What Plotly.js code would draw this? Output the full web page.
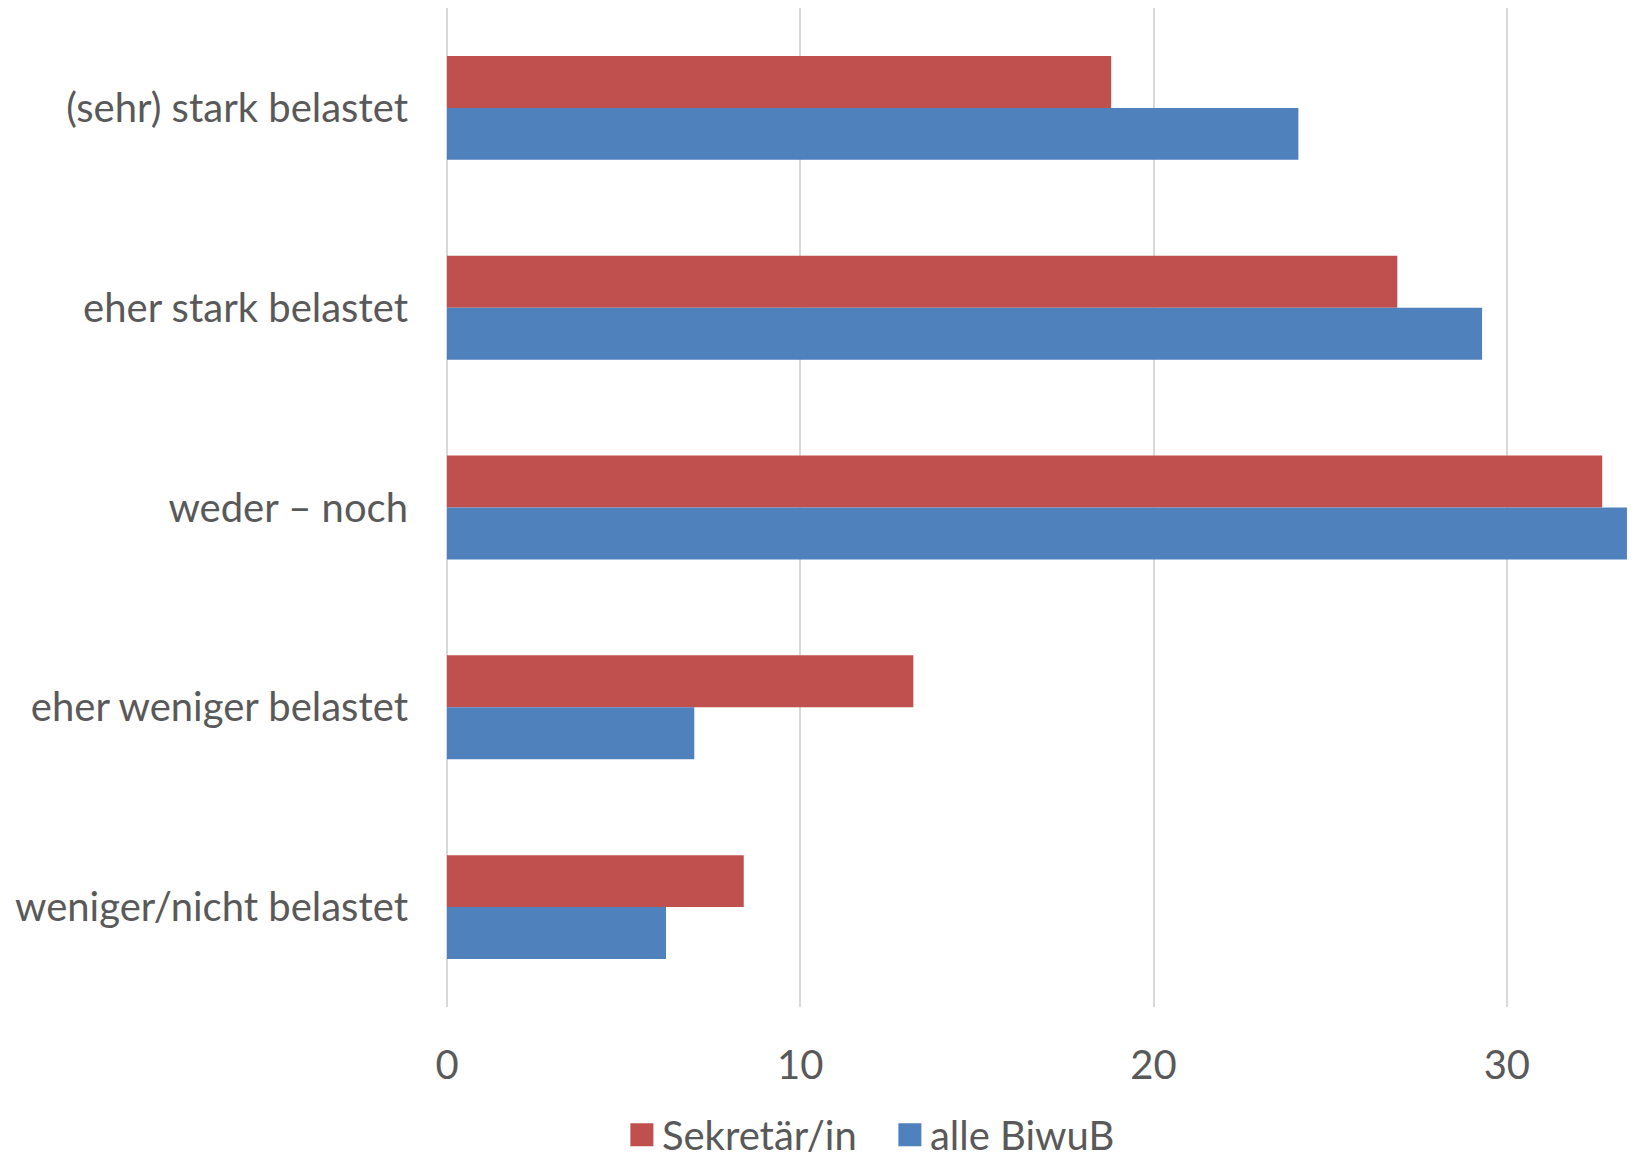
<!DOCTYPE html>
<html>
<head>
<meta charset="utf-8">
<script src="https://cdn.plot.ly/plotly-3.0.1.min.js"></script>
<style>
  html, body { margin: 0; padding: 0; background: #ffffff; }
  #chart { width: 1637px; height: 1158px; }
</style>
</head>
<body>
<div id="chart"></div>
<script>
// Belastungsgrad: Sekretär/innen im Vergleich zu allen Beschäftigten (in %)
const categories = [
  '(sehr) stark belastet',
  'eher stark belastet',
  'weder – noch',
  'eher weniger belastet',
  'weniger/nicht belastet'
];
const seriesNames = ['Sekretär/in', 'alle BiwuB'];
const sekretaerValues = [18.8, 26.9, 32.7, 13.2, 8.4];
const alleValues = [24.1, 29.3, 33.4, 7.0, 6.2];
const xTickValues = [0, 10, 20, 30];
const xTickLabels = ['0', '10', '20', '30'];

const textColor = '#595959';
const gridColor = '#d9d9d9';
const fontFamily = 'Lato, "Open Sans", sans-serif';
const fontSize = 40;

const traces = [
  {
    type: 'bar',
    orientation: 'h',
    name: seriesNames[0],
    y: categories,
    x: sekretaerValues,
    marker: { color: '#C0504D' },
    hoverinfo: 'x+name'
  },
  {
    type: 'bar',
    orientation: 'h',
    name: seriesNames[1],
    y: categories,
    x: alleValues,
    marker: { color: '#4F81BD' },
    hoverinfo: 'x+name'
  }
];

const layout = {
  width: 1637,
  height: 1158,
  paper_bgcolor: '#ffffff',
  plot_bgcolor: '#ffffff',
  margin: { l: 447, r: 9, t: 8, b: 151, pad: 0, autoexpand: false },
  barmode: 'group',
  bargap: 0.48,
  bargroupgap: 0,
  font: { family: fontFamily, color: textColor, size: fontSize },
  xaxis: {
    range: [0, 33.43],
    tickvals: xTickValues,
    ticktext: xTickLabels,
    showgrid: true,
    gridcolor: gridColor,
    gridwidth: 2,
    zeroline: true,
    zerolinecolor: gridColor,
    zerolinewidth: 2,
    showline: false,
    ticks: '',
    ticklabelstandoff: 31,
    tickfont: { family: fontFamily, color: textColor, size: fontSize },
    fixedrange: true
  },
  yaxis: {
    type: 'category',
    autorange: 'reversed',
    showgrid: false,
    zeroline: false,
    showline: false,
    ticks: '',
    ticklabelstandoff: 38,
    tickfont: { family: fontFamily, color: textColor, size: fontSize },
    fixedrange: true
  },
  showlegend: true,
  legend: {
    orientation: 'h',
    x: 0.375,
    xanchor: 'center',
    y: -0.128,
    yanchor: 'middle',
    entrywidth: 223,
    entrywidthmode: 'pixels',
    font: { family: fontFamily, color: textColor, size: fontSize },
    bgcolor: 'rgba(0,0,0,0)',
    itemclick: false,
    itemdoubleclick: false
  }
};

// Enlarge the square legend keys so they sit in proportion to the text
function enlargeLegendKeys(gd) {
  gd.querySelectorAll('.legend .legendpoints path').forEach(function (p) {
    p.setAttribute('d', 'M11.5,11.5H-11.5V-11.5H11.5Z');
  });
}

Plotly.newPlot('chart', traces, layout, { displayModeBar: false, staticPlot: true })
  .then(enlargeLegendKeys);
</script>
</body>
</html>
